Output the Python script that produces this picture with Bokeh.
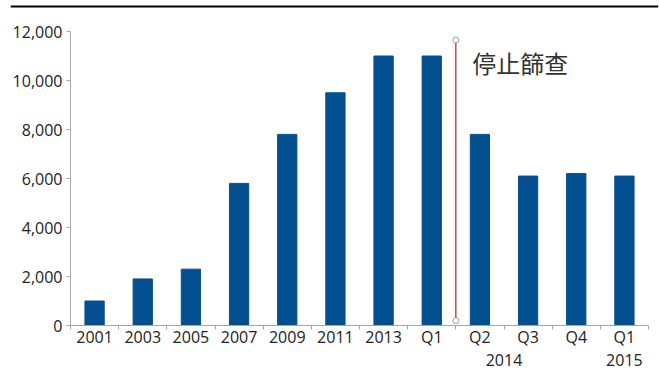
from bokeh.plotting import figure
from bokeh.models import (FixedTicker, LinearAxis, Range1d, ColumnDataSource,
                          NumeralTickFormatter, Span)
from bokeh.core.properties import value
from bokeh.embed import file_html
from bokeh.resources import INLINE

# ---- data ----
categories = ["2001", "2003", "2005", "2007", "2009", "2011", "2013", "Q1", "Q2", "Q3", "Q4", "Q1"]
values = [1000, 1900, 2300, 5800, 7800, 9500, 11000, 11000, 7800, 6100, 6200, 6100]
group_names = ["2014", "2015"]
group_sizes = [4, 1]          # quarters in each year group (last categories)
y_ticks = [0, 2000, 4000, 6000, 8000, 10000, 12000]
stop_label = "停止篩查"
stop_line_y = [200, 11650]

FONT = "Open Sans"
BAR = "#034F8F"
AXIS = "#A6A6A6"
LABEL = "#222222"

n = len(categories)
xs = list(range(n))

# layout (pixels): the frame covers the whole chart area, axes are placed inside it
W, H = 659, 370
frame_l, frame_r, frame_t, frame_b = 10, 658, 5, 370
axis_l, axis_r, axis_t, axis_b = 70, 648, 31, 325
px_per_cat = (axis_r - axis_l) / n
x_start = -0.5 - (axis_l - frame_l) / px_per_cat
x_end = n - 0.5 + (frame_r - axis_r) / px_per_cat
y_max = y_ticks[-1]
px_per_unit = (axis_b - axis_t) / y_max
y_end = y_max + (axis_t - frame_t) / px_per_unit
y_start = -(frame_b - axis_b) / px_per_unit

p = figure(width=W, height=H, output_backend="svg", toolbar_location=None,
           x_range=Range1d(x_start, x_end), y_range=Range1d(y_start, y_end),
           min_border_left=frame_l, min_border_right=W - frame_r,
           min_border_top=frame_t, min_border_bottom=H - frame_b)
p.outline_line_color = None
p.grid.visible = False
p.background_fill_color = "white"
p.border_fill_color = "white"

src = ColumnDataSource(dict(x=xs, top=values))
p.vbar(x="x", top="top", width=0.4, source=src, color=BAR)

# axis lines limited to the data extent
p.segment(x0=[-0.5, -0.5], y0=[0, 0], x1=[-0.5, n - 0.5], y1=[y_max, 0],
          line_color=AXIS, line_width=1)

# top rule
p.add_layout(Span(location=y_end, dimension="width", line_color="black", line_width=4))

# stop-screening line between 2014 Q1 and Q2
n_years = n - sum(group_sizes)
stop_x = n_years + 0.5
p.segment(x0=[stop_x], y0=[stop_line_y[0]], x1=[stop_x], y1=[stop_line_y[1]],
          line_color="#BE3F3A", line_width=1.4)
p.scatter(x=[stop_x, stop_x], y=stop_line_y, size=6, fill_color="white",
          line_color="#A09A9A", line_width=1)
p.text(x=[stop_x + 0.34], y=[stop_line_y[1] - 900], text=[stop_label],
       text_font=value("Noto Sans CJK TC"), text_font_size="24px",
       text_color="#333333", text_baseline="middle", text_align="left")

# y axis, fixed at the first category boundary
ya = p.yaxis[0]
ya.fixed_location = -0.5
ya.ticker = FixedTicker(ticks=y_ticks)
ya.formatter = NumeralTickFormatter(format="0,0")
ya.axis_line_color = None
ya.major_tick_line_color = AXIS
ya.major_tick_out = 4
ya.major_tick_in = 0
ya.minor_tick_line_color = None
ya.major_label_text_font = FONT
ya.major_label_text_font_size = "16px"
ya.major_label_text_color = LABEL
ya.major_label_standoff = 4

# x axis: category labels, boundary ticks, fixed at zero
xa = p.xaxis[0]
xa.fixed_location = 0
xa.ticker = FixedTicker(ticks=xs, minor_ticks=[i - 0.5 for i in range(n + 1)])
xa.major_label_overrides = {i: c for i, c in enumerate(categories)}
xa.axis_line_color = None
xa.major_tick_line_color = None
xa.major_tick_out = 0
xa.major_tick_in = 0
xa.minor_tick_line_color = AXIS
xa.minor_tick_out = 4
xa.minor_tick_in = 0
xa.major_label_text_font = FONT
xa.major_label_text_font_size = "16px"
xa.major_label_text_color = LABEL
xa.major_label_standoff = -4

# group axis (year of the quarters)
g_pos = []
start = n_years
for s in group_sizes:
    g_pos.append(start + (s - 1) / 2)
    start += s
ga = LinearAxis(ticker=FixedTicker(ticks=g_pos), fixed_location=0)
ga.major_label_overrides = {pos: name for pos, name in zip(g_pos, group_names)}
ga.axis_line_color = None
ga.major_tick_line_color = None
ga.minor_tick_line_color = None
ga.major_label_text_font = FONT
ga.major_label_text_font_size = "16px"
ga.major_label_text_color = LABEL
ga.major_label_standoff = 22
p.add_layout(ga, "below")

open("out.html", "w").write(file_html(p, INLINE))
